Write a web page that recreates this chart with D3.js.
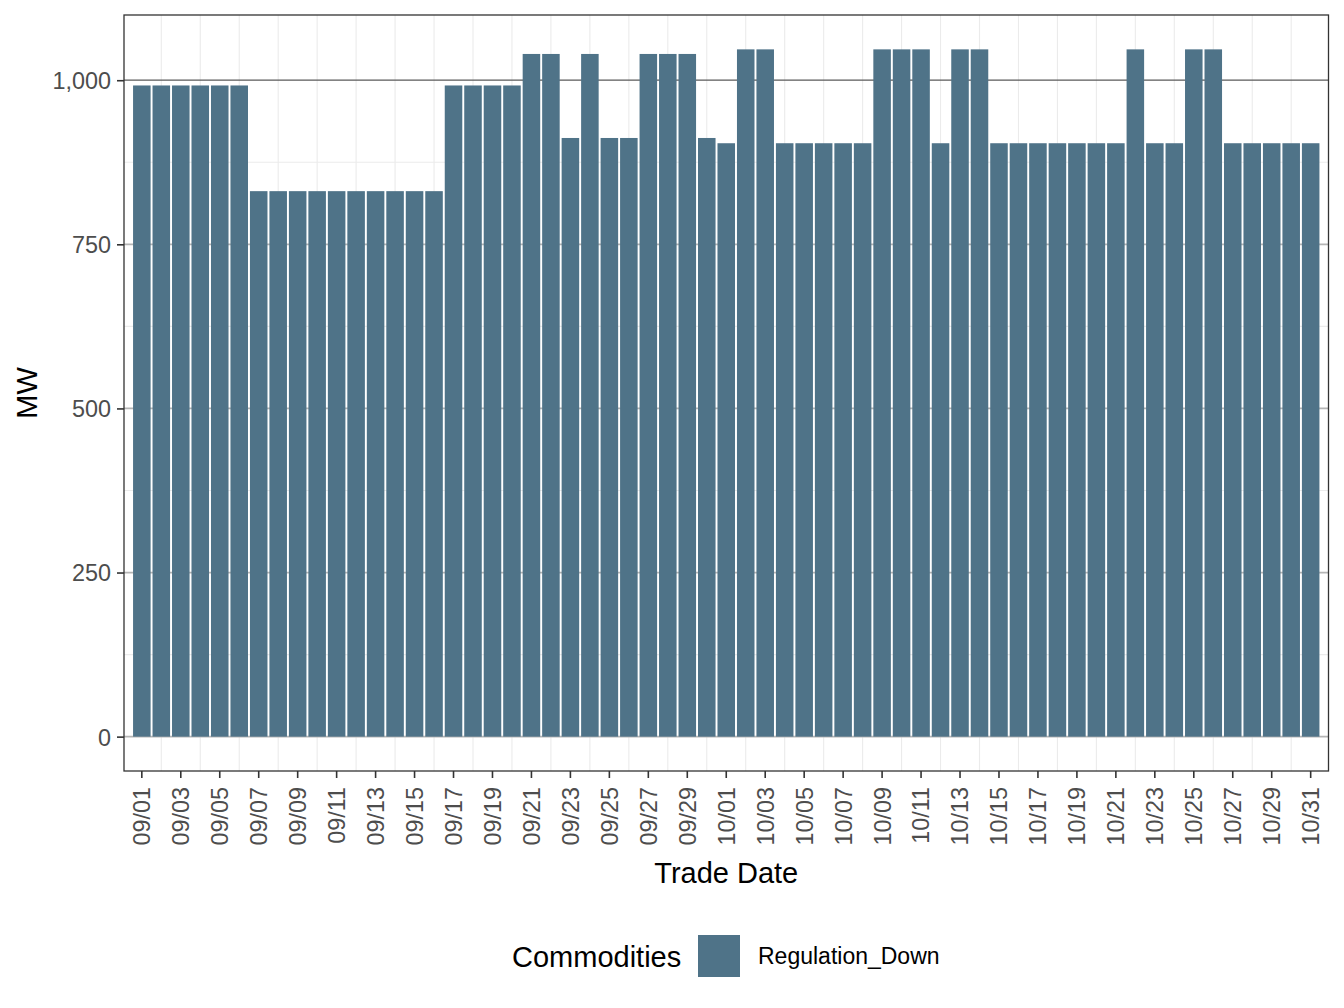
<!DOCTYPE html>
<html><head><meta charset="utf-8">
<script src="https://cdn.jsdelivr.net/npm/d3@7"></script>
<style>
body{margin:0;background:#fff}
svg{display:block}
text{font-family:"Liberation Sans", Arial, Helvetica, sans-serif}
</style>
</head><body>
<svg id="c" width="1344" height="1008"></svg>
<script>
// ---- data ----
const tradeDates = [
  "09/01","09/02","09/03","09/04","09/05","09/06","09/07","09/08","09/09","09/10",
  "09/11","09/12","09/13","09/14","09/15","09/16","09/17","09/18","09/19","09/20",
  "09/21","09/22","09/23","09/24","09/25","09/26","09/27","09/28","09/29","09/30",
  "10/01","10/02","10/03","10/04","10/05","10/06","10/07","10/08","10/09","10/10",
  "10/11","10/12","10/13","10/14","10/15","10/16","10/17","10/18","10/19","10/20",
  "10/21","10/22","10/23","10/24","10/25","10/26","10/27","10/28","10/29","10/30",
  "10/31"
];
const regulationDown = [
  992,992,992,992,992,992,831,831,831,831,
  831,831,831,831,831,831,992,992,992,992,
  1040,1040,912,1040,912,912,1040,1040,1040,912,
  904,1047,1047,904,904,904,904,904,1047,1047,
  1047,904,1047,1047,904,904,904,904,904,904,
  904,1047,904,904,1047,1047,904,904,904,904,
  904
];
const xTickLabels = [
  "09/01","09/03","09/05","09/07","09/09","09/11","09/13","09/15","09/17","09/19",
  "09/21","09/23","09/25","09/27","09/29","10/01","10/03","10/05","10/07","10/09",
  "10/11","10/13","10/15","10/17","10/19","10/21","10/23","10/25","10/27","10/29","10/31"
];
const yTickValues = [0, 250, 500, 750, 1000];
const yMinorValues = [125, 375, 625, 875];
const seriesName = "Regulation_Down";
const legendTitle = "Commodities";
const xTitle = "Trade Date";
const yTitle = "MW";

// ---- layout ----
const panel = {left: 124, right: 1328.5, top: 15, bottom: 771};
const barColor = "#4f7388";
const tickFont = "23.4px", titleFont = "29px", legendFont = "23px";
const svg = d3.select("#c");

const x = d3.scaleBand().domain(tradeDates)
  .range([panel.left, panel.right]).paddingInner(0.1).paddingOuter(0.465);
const ymax = d3.max(regulationDown);
const y = d3.scaleLinear().domain([-0.05 * ymax, 1.05 * ymax])
  .range([panel.bottom, panel.top]);

// panel background
svg.append("rect").attr("x", panel.left).attr("y", panel.top)
  .attr("width", panel.right - panel.left).attr("height", panel.bottom - panel.top)
  .attr("fill", "#fff");

const grid = svg.append("g");
// minor x grid (dates without labels)
grid.selectAll("line.vx").data(tradeDates.filter(d => !xTickLabels.includes(d)))
  .join("line").attr("class", "vx")
  .attr("x1", d => x(d) + x.bandwidth() / 2).attr("x2", d => x(d) + x.bandwidth() / 2)
  .attr("y1", panel.top).attr("y2", panel.bottom)
  .attr("stroke", "#ebebeb").attr("stroke-width", 1.1);
// minor y grid
grid.selectAll("line.my").data(yMinorValues).join("line").attr("class", "my")
  .attr("x1", panel.left).attr("x2", panel.right)
  .attr("y1", d => y(d)).attr("y2", d => y(d))
  .attr("stroke", "#ebebeb").attr("stroke-width", 1.1);
// major y grid
grid.selectAll("line.My").data(yTickValues).join("line").attr("class", "My")
  .attr("x1", panel.left).attr("x2", panel.right)
  .attr("y1", d => y(d)).attr("y2", d => y(d))
  .attr("stroke", d => d === 1000 ? "#5a5a5a" : "#b5b5b5")
  .attr("stroke-width", d => d === 1000 ? 1.2 : 1.8);

// bars
svg.append("g").selectAll("rect").data(tradeDates).join("rect")
  .attr("x", d => x(d)).attr("width", x.bandwidth())
  .attr("y", (d, i) => y(regulationDown[i]))
  .attr("height", (d, i) => y(0) - y(regulationDown[i]))
  .attr("fill", barColor);

// panel border
svg.append("rect").attr("x", panel.left).attr("y", panel.top)
  .attr("width", panel.right - panel.left).attr("height", panel.bottom - panel.top)
  .attr("fill", "none").attr("stroke", "#333").attr("stroke-width", 1.3);

// y axis
const yAxis = svg.append("g").attr("transform", `translate(${panel.left},0)`)
  .call(d3.axisLeft(y).tickValues(yTickValues).tickSize(7).tickPadding(6)
    .tickFormat(d3.format(",")));
yAxis.select(".domain").remove();
yAxis.selectAll(".tick line").attr("stroke", "#333").attr("stroke-width", 1.6);
yAxis.selectAll(".tick text").attr("fill", "#4d4d4d").style("font-size", tickFont)
  .attr("dy", "0.36em");

// x axis
const xAxis = svg.append("g").attr("transform", `translate(0,${panel.bottom})`)
  .call(d3.axisBottom(x).tickValues(xTickLabels).tickSize(7).tickPadding(0));
xAxis.select(".domain").remove();
xAxis.selectAll(".tick line").attr("stroke", "#333").attr("stroke-width", 1.6);
xAxis.selectAll(".tick text").attr("fill", "#4d4d4d").style("font-size", tickFont)
  .attr("transform", "translate(0,16) rotate(-90)")
  .attr("text-anchor", "end").attr("x", 0).attr("y", 0).attr("dy", "0.36em");

// axis titles
svg.append("text").attr("x", (panel.left + panel.right) / 2).attr("y", 883)
  .attr("text-anchor", "middle").style("font-size", titleFont).attr("fill", "#000")
  .text(xTitle);
svg.append("text").attr("transform", `translate(37,${(panel.top + panel.bottom) / 2}) rotate(-90)`)
  .attr("text-anchor", "middle").style("font-size", titleFont).attr("fill", "#000")
  .text(yTitle);

// legend
const lg = svg.append("g");
lg.append("text").attr("x", 512).attr("y", 967).style("font-size", titleFont)
  .attr("fill", "#000").text(legendTitle);
lg.append("rect").attr("x", 698).attr("y", 935).attr("width", 42).attr("height", 42)
  .attr("fill", barColor);
lg.append("text").attr("x", 758).attr("y", 964).style("font-size", legendFont)
  .attr("fill", "#000").text(seriesName);
</script>
</body></html>
